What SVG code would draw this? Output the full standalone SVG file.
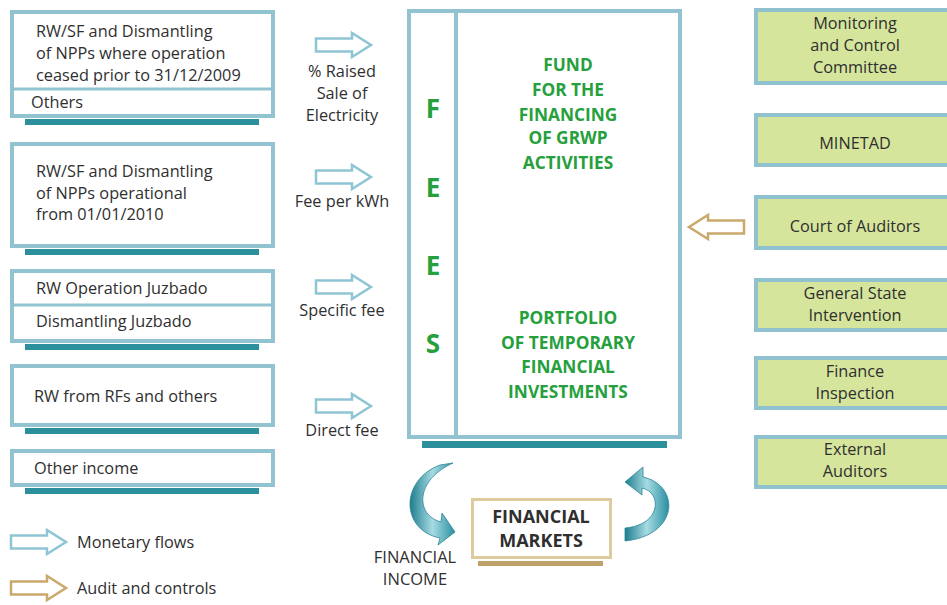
<svg xmlns="http://www.w3.org/2000/svg" width="947" height="605" viewBox="0 0 947 605">
<defs>
<style>
.box{fill:#fff;stroke:#92c3d0;stroke-width:4}
.rbox{fill:#d5e59c;stroke:#8fc1cf;stroke-width:4}
.bar{fill:#2b909c}
.t{font-family:"Open Sans","Liberation Sans",sans-serif;font-size:16.3px;fill:#2f2f2f}
.c{text-anchor:middle}
.m{font-family:"Open Sans","Liberation Sans",sans-serif;font-weight:bold;font-size:18px;fill:#2f2f2f;text-anchor:middle}
.fi{font-family:"Open Sans","Liberation Sans",sans-serif;font-size:16.5px;fill:#2f2f2f;text-anchor:middle}
.g{font-family:"Open Sans","Liberation Sans",sans-serif;font-weight:bold;font-size:17.3px;fill:#25a03c;text-anchor:middle}
.fees{font-family:"Open Sans","Liberation Sans",sans-serif;font-weight:bold;font-size:26px;fill:#25a03c;text-anchor:middle}
.blue{fill:#fff;stroke:#8ec5d4;stroke-width:2.5;stroke-linejoin:miter}
.gold{fill:#fff;stroke:#c9a96c;stroke-width:2.5;stroke-linejoin:miter}
.curve{fill:url(#tg);stroke:#2a8596;stroke-width:0.8}
</style>
<linearGradient id="tg" x1="0" y1="0" x2="1" y2="0">
<stop offset="0" stop-color="#1f7d8d"/>
<stop offset="0.5" stop-color="#a6dbe4"/>
<stop offset="1" stop-color="#2a8fa0"/>
</linearGradient>
<path id="arr" d="M0,-6.5 L36,-6.5 L36,-12 L55,0 L36,12 L36,6.5 L0,6.5 Z"/>
</defs>

<g id="src1">
<rect class="box" x="12" y="12" width="261" height="104"/>
<line x1="12" y1="89" x2="273" y2="89" stroke="#92c3d0" stroke-width="3"/>
<rect class="bar" x="25" y="119" width="234" height="6"/>
<text class="t" x="36" y="37">RW/SF and Dismantling</text>
<text class="t" x="36" y="59">of NPPs where operation</text>
<text class="t" x="36" y="81">ceased prior to 31/12/2009</text>
<text class="t" x="31" y="108">Others</text>
</g>
<g id="src2">
<rect class="box" x="12" y="144" width="261" height="102"/>
<rect class="bar" x="25" y="249" width="234" height="6"/>
<text class="t" x="36" y="177">RW/SF and Dismantling</text>
<text class="t" x="36" y="199">of NPPs operational</text>
<text class="t" x="36" y="220">from 01/01/2010</text>
</g>
<g id="src3">
<rect class="box" x="12" y="271" width="261" height="70"/>
<line x1="12" y1="305" x2="273" y2="305" stroke="#92c3d0" stroke-width="3"/>
<rect class="bar" x="25" y="344" width="234" height="6"/>
<text class="t" x="36" y="294">RW Operation Juzbado</text>
<text class="t" x="36" y="327">Dismantling Juzbado</text>
</g>
<g id="src4">
<rect class="box" x="12" y="366" width="261" height="59"/>
<rect class="bar" x="25" y="428" width="234" height="6"/>
<text class="t" x="34" y="402">RW from RFs and others</text>
</g>
<g id="src5">
<rect class="box" x="12" y="451" width="261" height="34"/>
<rect class="bar" x="25" y="488" width="234" height="6"/>
<text class="t" x="34" y="474">Other income</text>
</g>

<g id="connectors">
<use href="#arr" class="blue" x="316" y="45"/>
<use href="#arr" class="blue" x="316" y="177"/>
<use href="#arr" class="blue" x="316" y="287"/>
<use href="#arr" class="blue" x="316" y="406"/>
<use href="#arr" class="gold" transform="translate(744,227) scale(-1,1)"/>
<path class="curve" d="M440,465 C400,480 400,530 440,538 L438,545 L455,532 L442,513 L441,522 C415,515 415,480 453,463 Z"/>
<path class="curve" d="M625,482 L643,467 L643,477 C680,485 680,535 625,541 L625,528 C662,525 662,492 642,488 L642,495 Z"/>
</g>
<g id="flow-labels">
<text class="t c" x="342" y="77">% Raised</text>
<text class="t c" x="342" y="99">Sale of</text>
<text class="t c" x="342" y="121">Electricity</text>
<text class="t c" x="342" y="207">Fee per kWh</text>
<text class="t c" x="342" y="316">Specific fee</text>
<text class="t c" x="342" y="436">Direct fee</text>
</g>

<g id="fund">
<rect class="box" x="409" y="11" width="271" height="426"/>
<line x1="456" y1="11" x2="456" y2="437" stroke="#92c3d0" stroke-width="4"/>
<rect class="bar" x="422" y="441" width="245" height="7"/>
<text class="fees" x="433" y="118">F</text>
<text class="fees" x="433" y="197">E</text>
<text class="fees" x="433" y="275">E</text>
<text class="fees" x="433" y="353">S</text>
<text class="g" x="568" y="71">FUND</text>
<text class="g" x="568" y="96">FOR THE</text>
<text class="g" x="568" y="121">FINANCING</text>
<text class="g" x="568" y="144">OF GRWP</text>
<text class="g" x="568" y="169">ACTIVITIES</text>
<text class="g" x="568" y="324">PORTFOLIO</text>
<text class="g" x="568" y="349">OF TEMPORARY</text>
<text class="g" x="568" y="373">FINANCIAL</text>
<text class="g" x="568" y="398">INVESTMENTS</text>
</g>

<g id="markets">
<rect x="472.5" y="499.5" width="138" height="58" fill="#fff" stroke="#dccb9c" stroke-width="3"/>
<rect x="478" y="561" width="125" height="5" fill="#bfa26a"/>
<text class="m" x="541" y="523">FINANCIAL</text>
<text class="m" x="541" y="547">MARKETS</text>
</g>
<g id="fin-income">
<text class="fi" x="415" y="563">FINANCIAL</text>
<text class="fi" x="415" y="585">INCOME</text>
</g>

<g id="mcc"><rect class="rbox" x="756" y="10" width="200" height="73"/>
<text class="t c" x="855" y="29">Monitoring</text><text class="t c" x="855" y="51">and Control</text><text class="t c" x="855" y="73">Committee</text></g>
<g id="minetad"><rect class="rbox" x="756" y="115" width="200" height="50"/>
<text class="t c" x="855" y="149">MINETAD</text></g>
<g id="court"><rect class="rbox" x="756" y="197" width="200" height="51"/>
<text class="t c" x="855" y="232">Court of Auditors</text></g>
<g id="gsi"><rect class="rbox" x="756" y="280" width="200" height="50"/>
<text class="t c" x="855" y="299">General State</text><text class="t c" x="855" y="321">Intervention</text></g>
<g id="finsp"><rect class="rbox" x="756" y="358" width="200" height="50"/>
<text class="t c" x="855" y="377">Finance</text><text class="t c" x="855" y="399">Inspection</text></g>
<g id="extaud"><rect class="rbox" x="756" y="437" width="200" height="50"/>
<text class="t c" x="855" y="455">External</text><text class="t c" x="855" y="477">Auditors</text></g>

<g id="legend">
<use href="#arr" class="blue" x="11" y="542"/>
<text class="t" x="77" y="548">Monetary flows</text>
<use href="#arr" class="gold" x="11" y="588"/>
<text class="t" x="77" y="594">Audit and controls</text>
</g>
</svg>
